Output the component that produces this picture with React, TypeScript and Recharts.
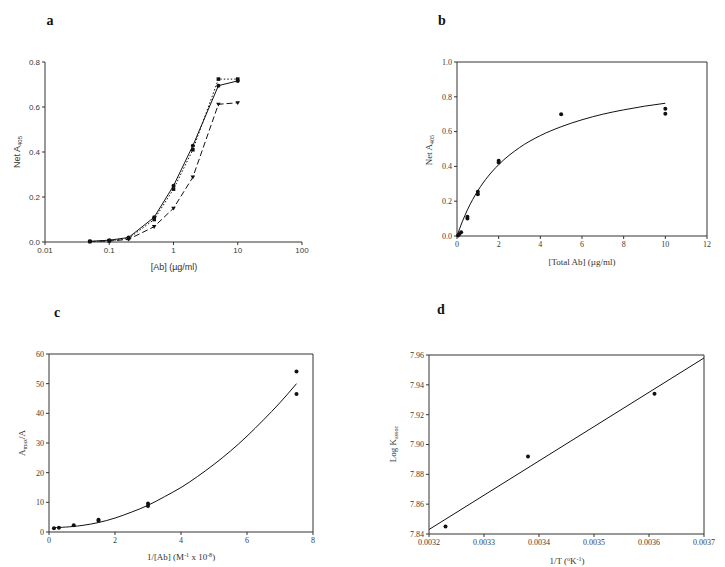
import React from 'react';
import { ComposedChart, Line, Scatter, XAxis, YAxis, ReferenceLine } from 'recharts';

// Panel a
const aX = [0.05, 0.1, 0.2, 0.5, 1, 2, 5, 10];
const aSolid = [0.003, 0.008, 0.02, 0.11, 0.25, 0.428, 0.695, 0.716];
const aDotted = [0.002, 0.005, 0.016, 0.1, 0.235, 0.41, 0.724, 0.724];
const aDashed = [0.002, 0.004, 0.012, 0.068, 0.15, 0.288, 0.612, 0.619];
const aXTicks = [0.01, 0.1, 1, 10, 100];
const aYTicks = [0, 0.2, 0.4, 0.6, 0.8];

// Panel b
const bPtX = [0.05, 0.1, 0.2, 0.5, 0.5, 1, 1, 2, 2, 5, 10, 10];
const bPtY = [0.003, 0.01, 0.022, 0.11, 0.1, 0.255, 0.24, 0.432, 0.422, 0.7, 0.732, 0.703];
const bFitX = [0, 0.25, 0.5, 1, 1.5, 2, 3, 4, 5, 6, 7, 8, 9, 10];
const bFitY = [0, 0.081, 0.15, 0.26, 0.344, 0.41, 0.508, 0.577, 0.628, 0.668, 0.7, 0.725, 0.746, 0.763];
const bXTicks = [0, 2, 4, 6, 8, 10, 12];
const bYTicks = [0, 0.2, 0.4, 0.6, 0.8, 1.0];

// Panel c
const cPtX = [0.15, 0.3, 0.75, 1.5, 1.5, 3, 3, 7.5, 7.5];
const cPtY = [1.3, 1.4, 2.3, 4.1, 3.8, 9.6, 8.8, 54.1, 46.5];
const cFitX = [0.15, 0.5, 1, 1.5, 2, 2.5, 3, 3.5, 4, 4.5, 5, 5.5, 6, 6.5, 7, 7.5];
const cFitY = [1.5, 1.65, 2.2, 3.2, 4.7, 6.7, 9.0, 11.9, 15.0, 18.7, 22.8, 27.3, 32.3, 37.8, 43.6, 50.0];
const cXTicks = [0, 2, 4, 6, 8];
const cYTicks = [0, 10, 20, 30, 40, 50, 60];

// Panel d
const dPtX = [0.00323, 0.00338, 0.00361];
const dPtY = [7.845, 7.892, 7.934];
const dFitX = [0.0032, 0.0037];
const dFitY = [7.843, 7.958];
const dXTicks = [0.0032, 0.0033, 0.0034, 0.0035, 0.0036, 0.0037];
const dYTicks = [7.84, 7.86, 7.88, 7.9, 7.92, 7.94, 7.96];

const zip = (xs: number[], ys: number[]) => xs.map((x, i) => ({ x, y: ys[i] }));

const SANS = 'Liberation Sans, Arial, sans-serif';
const SERIF = 'Liberation Serif, Times New Roman, serif';
const INK = '#111';
const TXT = '#3a3a3a';

const circleDot = (p: any) => (
  <circle key={`c${p.index}`} cx={p.cx} cy={p.cy} r={2} fill={INK} stroke="none" />
);
const squareDot = (p: any) => (
  <rect key={`s${p.index}`} x={p.cx - 1.8} y={p.cy - 1.8} width={3.6} height={3.6} fill={INK} stroke="none" />
);
const triDot = (p: any) => (
  <path key={`t${p.index}`} d={`M${p.cx - 2.3},${p.cy - 1.6} L${p.cx + 2.3},${p.cy - 1.6} L${p.cx},${p.cy + 2.2} Z`} fill={INK} stroke="none" />
);
const scatterDot = (p: any) => <circle cx={p.cx} cy={p.cy} r={2} fill={INK} stroke="none" />;

const sansTick = { fontSize: 8, fill: TXT, fontFamily: SANS };
const serifTick = { fontSize: 8, fill: TXT, fontFamily: SERIF };
const axisLine = { stroke: '#333', strokeWidth: 1 };

function PanelA() {
  return (
    <ComposedChart width={362} height={280} margin={{ top: 62, right: 60, bottom: 0, left: 0 }}>
      <XAxis
        dataKey="x"
        type="number"
        scale="log"
        domain={[0.01, 100]}
        ticks={aXTicks}
        allowDataOverflow
        height={38}
        tick={sansTick}
        tickSize={3}
        axisLine={axisLine}
        tickLine={axisLine}
        tickFormatter={(v: number) => String(v)}
      />
      <YAxis
        dataKey="y"
        type="number"
        domain={[0, 0.8]}
        ticks={aYTicks}
        width={45}
        tick={sansTick}
        tickSize={3}
        axisLine={axisLine}
        tickLine={axisLine}
        tickFormatter={(v: number) => v.toFixed(1)}
      />
      <Line data={zip(aX, aDotted)} dataKey="y" stroke={INK} strokeWidth={1} strokeDasharray="1.5 2" dot={squareDot} isAnimationActive={false} />
      <Line data={zip(aX, aDashed)} dataKey="y" stroke={INK} strokeWidth={1} strokeDasharray="6 3" dot={triDot} isAnimationActive={false} />
      <Line data={zip(aX, aSolid)} dataKey="y" stroke={INK} strokeWidth={1} dot={circleDot} isAnimationActive={false} />
    </ComposedChart>
  );
}

function Box({ xMax, yMax }: { xMax: number; yMax: number }) {
  return null;
}

function PanelB() {
  return (
    <ComposedChart width={363} height={280} margin={{ top: 62, right: 18, bottom: 0, left: 0 }}>
      <XAxis dataKey="x" type="number" domain={[0, 12]} ticks={bXTicks} height={44} tick={serifTick} tickSize={3} axisLine={axisLine} tickLine={axisLine} />
      <YAxis dataKey="y" type="number" domain={[0, 1]} ticks={bYTicks} width={95} tick={serifTick} tickSize={3} axisLine={axisLine} tickLine={axisLine} tickFormatter={(v: number) => v.toFixed(1)} />
      <ReferenceLine y={1} stroke="#333" strokeWidth={1} ifOverflow="visible" />
      <ReferenceLine x={12} stroke="#333" strokeWidth={1} ifOverflow="visible" />
      <Line data={zip(bFitX, bFitY)} dataKey="y" type="monotone" stroke={INK} strokeWidth={1} dot={false} isAnimationActive={false} />
      <Scatter data={zip(bPtX, bPtY)} dataKey="y" fill={INK} shape={scatterDot} isAnimationActive={false} />
    </ComposedChart>
  );
}

function PanelC() {
  return (
    <ComposedChart width={362} height={287} margin={{ top: 74, right: 49, bottom: 0, left: 0 }}>
      <XAxis dataKey="x" type="number" domain={[0, 8]} ticks={cXTicks} height={35} tick={serifTick} tickSize={3} axisLine={axisLine} tickLine={axisLine} />
      <YAxis dataKey="y" type="number" domain={[0, 60]} ticks={cYTicks} width={49} tick={serifTick} tickSize={3} axisLine={axisLine} tickLine={axisLine} />
      <ReferenceLine y={60} stroke="#333" strokeWidth={1} ifOverflow="visible" />
      <ReferenceLine x={8} stroke="#333" strokeWidth={1} ifOverflow="visible" />
      <Line data={zip(cFitX, cFitY)} dataKey="y" type="natural" stroke={INK} strokeWidth={1} dot={false} isAnimationActive={false} />
      <Scatter data={zip(cPtX, cPtY)} dataKey="y" fill={INK} shape={scatterDot} isAnimationActive={false} />
    </ComposedChart>
  );
}

function PanelD() {
  return (
    <ComposedChart width={363} height={287} margin={{ top: 75, right: 21, bottom: 0, left: 0 }}>
      <XAxis dataKey="x" type="number" domain={[0.0032, 0.0037]} ticks={dXTicks} height={33} tick={serifTick} tickSize={3} axisLine={axisLine} tickLine={axisLine} tickFormatter={(v: number) => v.toFixed(4)} />
      <YAxis dataKey="y" type="number" domain={[7.84, 7.96]} ticks={dYTicks} width={67} tick={serifTick} tickSize={3} axisLine={axisLine} tickLine={axisLine} tickFormatter={(v: number) => v.toFixed(2)} />
      <ReferenceLine y={7.96} stroke="#333" strokeWidth={1} ifOverflow="visible" />
      <ReferenceLine x={0.0037} stroke="#333" strokeWidth={1} ifOverflow="visible" />
      <Line data={zip(dFitX, dFitY)} dataKey="y" type="linear" stroke={INK} strokeWidth={1} dot={false} isAnimationActive={false} />
      <Scatter data={zip(dPtX, dPtY)} dataKey="y" fill={INK} shape={scatterDot} isAnimationActive={false} />
    </ComposedChart>
  );
}

function Overlay() {
  const title = { fontFamily: SERIF, fontWeight: 700, fontSize: 14, fill: '#111' } as const;
  const sansLab = { fontFamily: SANS, fontSize: 9, fill: '#333' } as const;
  const serifLab = { fontFamily: SERIF, fontSize: 9, fill: '#333' } as const;
  return (
    <svg width={725} height={567} style={{ position: 'absolute', left: 0, top: 0, pointerEvents: 'none' }}>
      <text x={50} y={25} {...title} textAnchor="middle">a</text>
      <text x={442} y={25} {...title} textAnchor="middle">b</text>
      <text x={57} y={317} {...title} textAnchor="middle">c</text>
      <text x={441} y={314} {...title} textAnchor="middle">d</text>

      <text x={174} y={270} {...sansLab} textAnchor="middle">[Ab] (µg/ml)</text>
      <text transform="translate(20,152) rotate(-90)" {...sansLab} textAnchor="middle">
        Net A<tspan dy={2} fontSize={6}>405</tspan>
      </text>

      <text x={582} y={265} {...serifLab} textAnchor="middle">[Total Ab] (µg/ml)</text>
      <text transform="translate(432,150) rotate(-90)" {...serifLab} textAnchor="middle">
        Net A<tspan dy={2} fontSize={6}>405</tspan>
      </text>

      <text x={181} y={560} {...serifLab} textAnchor="middle">
        1/[Ab] (M<tspan dy={-3} fontSize={6}>-1</tspan><tspan dy={3}> x 10</tspan><tspan dy={-3} fontSize={6}>-8</tspan><tspan dy={3}>)</tspan>
      </text>
      <text transform="translate(25,443) rotate(-90)" {...serifLab} textAnchor="middle">
        A<tspan dy={2} fontSize={6}>max</tspan><tspan dy={-2}>/A</tspan>
      </text>

      <text x={567} y={564} {...serifLab} textAnchor="middle">
        1/T (<tspan dy={-3} fontSize={6}>o</tspan><tspan dy={3}>K</tspan><tspan dy={-3} fontSize={6}>-1</tspan><tspan dy={3}>)</tspan>
      </text>
      <text transform="translate(396,444) rotate(-90)" {...serifLab} textAnchor="middle">
        Log K<tspan dy={2} fontSize={6}>assoc</tspan>
      </text>
    </svg>
  );
}

export default function App() {
  return (
    <div style={{ position: 'absolute', left: 0, top: 0, width: 725, height: 567, background: '#fff' }}>
      <div style={{ position: 'absolute', left: 0, top: 0 }}><PanelA /></div>
      <div style={{ position: 'absolute', left: 362, top: 0 }}><PanelB /></div>
      <div style={{ position: 'absolute', left: 0, top: 280 }}><PanelC /></div>
      <div style={{ position: 'absolute', left: 362, top: 280 }}><PanelD /></div>
      <Overlay />
    </div>
  );
}
